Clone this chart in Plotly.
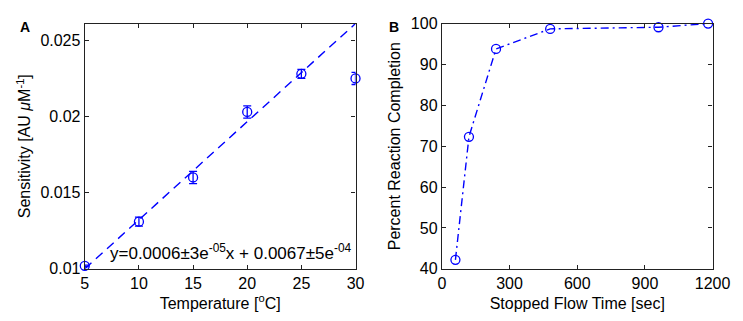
import plotly.graph_objects as go

# Panel A data
temp_c = [5, 10, 15, 20, 25, 30]
sensitivity = [0.0102, 0.0131, 0.0160, 0.0203, 0.0228, 0.0225]
sens_err = [0.00005, 0.0003, 0.0004, 0.0004, 0.0003, 0.0004]
fit_x = [5, 30]
fit_slope = 0.000644
fit_intercept = 0.00678

# Panel B data
flow_time = [60, 120, 240, 480, 960, 1180]
completion = [42.2, 72.3, 93.8, 98.7, 99.1, 100.0]

W, H = 743, 321
def xd(a, b):
    return [a / W, b / W]
def yd(top, bottom):
    return [1 - bottom / H, 1 - top / H]

blue = "#0000ff"
font = "Liberation Sans, Arial, sans-serif"
FS = 16

fig = go.Figure()
fit_y = [fit_slope * x + fit_intercept for x in fit_x]
fig.add_trace(go.Scatter(x=fit_x, y=fit_y, mode="lines",
                         line=dict(color=blue, width=1.4, dash="9px,6px"),
                         xaxis="x", yaxis="y", showlegend=False, cliponaxis=True))
fig.add_trace(go.Scatter(x=temp_c, y=sensitivity, mode="markers",
                         marker=dict(symbol="circle-open", size=9, color=blue, line=dict(width=1.3)),
                         error_y=dict(type="data", array=sens_err, color=blue, thickness=1.3, width=4),
                         xaxis="x", yaxis="y", showlegend=False, cliponaxis=False))
fig.add_trace(go.Scatter(x=flow_time, y=completion, mode="lines+markers",
                         line=dict(color=blue, width=1.4, dash="8px,4px,2px,4px"),
                         marker=dict(symbol="circle-open", size=9, color=blue, line=dict(width=1.3)),
                         xaxis="x2", yaxis="y2", showlegend=False, cliponaxis=False))

axis_common = dict(showline=True, mirror="ticks", linecolor="#222222", linewidth=1.3,
                   ticks="inside", ticklen=4, tickcolor="#222222", showgrid=False, zeroline=False,
                   ticklabeloverflow="allow",
                   tickfont=dict(size=FS, color="black", family=font),
                   title_font=dict(size=FS, color="black", family=font))

fig.update_layout(
    width=W, height=H, margin=dict(l=0, r=0, t=0, b=0),
    paper_bgcolor="white", plot_bgcolor="white",
    font=dict(family=font, color="black"),
    xaxis=dict(domain=xd(75, 354), range=[5, 30], tickvals=[5, 10, 15, 20, 25, 30],
               title=dict(text="Temperature [<sup>o</sup>C]", standoff=6), anchor="y", **axis_common),
    yaxis=dict(domain=yd(8, 267), range=[0.01, 0.0261], tickvals=[0.01, 0.015, 0.02, 0.025],
               ticktext=["0.01", "0.015", "0.02", "0.025"],
               title=dict(text="Sensitivity [AU <i>μ</i>M<sup>-1</sup>]", standoff=5), anchor="x", **axis_common),
    xaxis2=dict(domain=xd(443, 722), range=[0, 1200], tickvals=[0, 300, 600, 900, 1200],
                title=dict(text="Stopped Flow Time [sec]", standoff=6), anchor="y2", **axis_common),
    yaxis2=dict(domain=yd(8, 267), range=[40, 100], tickvals=[40, 50, 60, 70, 80, 90, 100],
                title=dict(text="Percent Reaction Completion", standoff=6), anchor="x2", **axis_common),
    annotations=[
        dict(text="<b>A</b>", x=6 / W, y=1 - 12 / H, xref="paper", yref="paper",
             xanchor="left", yanchor="middle", showarrow=False, font=dict(size=14, color="black", family=font)),
        dict(text="<b>B</b>", x=386 / W, y=1 - 12 / H, xref="paper", yref="paper",
             xanchor="left", yanchor="middle", showarrow=False, font=dict(size=14, color="black", family=font)),
        dict(text="y=0.0006±3e<sup>-05</sup>x + 0.0067±5e<sup>-04</sup>",
             x=99 / W, y=1 - 249 / H, xref="paper", yref="paper",
             xanchor="left", yanchor="middle", showarrow=False, font=dict(size=17, color="black", family=font)),
    ],
)

fig.write_html("out.html")
